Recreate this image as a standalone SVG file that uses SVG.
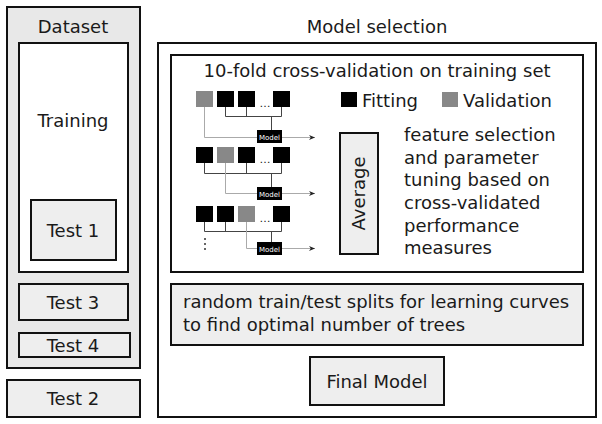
<svg xmlns="http://www.w3.org/2000/svg" width="602" height="424" viewBox="0 0 602 424">
<defs>
<style>
text{font-family:"DejaVu Sans","Liberation Sans",sans-serif;fill:#1a1a1a}
.box{stroke:#111;stroke-width:2}
.lg{fill:#e8e8e8}
.lt{fill:#eeeeee}
.wh{fill:#fff}
.t17{font-size:18px}
.mid{text-anchor:middle}
.fit{fill:#000}
.val{fill:#888}
.fl{stroke:#444;stroke-width:1;fill:none}
.vl{stroke:#aaa;stroke-width:1;fill:none}
.ar{stroke:#aaa;stroke-width:1;fill:none;marker-end:url(#ah)}
.mb{fill:#000}
.mt{font-size:7px;fill:#fff;text-anchor:middle}
</style>
<marker id="ah" viewBox="0 0 10 10" refX="10" refY="5" markerWidth="8" markerHeight="6" orient="auto" markerUnits="userSpaceOnUse">
<path d="M0,1 L10,5 L0,9 L3,5 z" fill="#222"/>
</marker>
</defs>
<rect width="602" height="424" fill="#fff"/>

<g id="dataset">
<rect class="box lg" x="7" y="7" width="133" height="361"/>
<text class="t17 mid" x="73" y="33">Dataset</text>
</g>
<g id="training">
<rect class="box wh" x="19" y="43" width="109" height="229"/>
<text class="t17 mid" x="73" y="127">Training</text>
</g>
<g id="test1">
<rect class="box lt" x="31" y="200" width="85" height="60"/>
<text class="t17 mid" x="73" y="237">Test 1</text>
</g>
<g id="test3">
<rect class="box lt" x="19" y="284" width="109" height="36"/>
<text class="t17 mid" x="73" y="309">Test 3</text>
</g>
<g id="test4">
<rect class="box lt" x="19" y="333" width="111" height="24"/>
<text class="t17 mid" x="73" y="352">Test 4</text>
</g>
<g id="test2">
<rect class="box lt" x="7" y="380" width="133" height="37"/>
<text class="t17 mid" x="73" y="405">Test 2</text>
</g>

<g id="model-selection">
<text class="t17 mid" x="377" y="33">Model selection</text>
<rect class="box wh" x="158" y="43" width="438" height="374"/>
</g>
<g id="cv">
<rect class="box wh" x="171" y="55" width="412" height="217"/>
<text class="t17 mid" x="377" y="77">10-fold cross-validation on training set</text>
</g>

<g id="legend">
<rect class="fit" x="341" y="92" width="16" height="15"/>
<text class="t17" x="362" y="107">Fitting</text>
<rect class="val" x="442" y="92" width="16" height="15"/>
<text class="t17" x="463" y="107">Validation</text>
</g>

<g id="folds">
<rect class="val" x="196" y="91" width="17" height="16"/>
<rect class="fit" x="217" y="91" width="17" height="16"/>
<rect class="fit" x="238" y="91" width="17" height="16"/>
<text x="265" y="107" style="font-size:11px" class="mid">…</text>
<rect class="fit" x="273" y="91" width="17" height="16"/>

<rect class="fit" x="196" y="147" width="17" height="16"/>
<rect class="val" x="217" y="147" width="17" height="16"/>
<rect class="fit" x="238" y="147" width="17" height="16"/>
<text x="265" y="163" style="font-size:11px" class="mid">…</text>
<rect class="fit" x="273" y="147" width="17" height="16"/>

<rect class="fit" x="196" y="206" width="17" height="16"/>
<rect class="fit" x="217" y="206" width="17" height="16"/>
<rect class="val" x="238" y="206" width="17" height="16"/>
<text x="265" y="222" style="font-size:11px" class="mid">…</text>
<rect class="fit" x="273" y="206" width="17" height="16"/>

<g fill="#333">
<circle cx="205" cy="239" r="1"/>
<circle cx="205" cy="244" r="1"/>
<circle cx="205" cy="249" r="1"/>
</g>
</g>

<g id="connectors">
<path class="fl" d="M225.5,107 V116.5 H281.5 M246.5,107 V116.5 M281.5,107 V116.5 M271.5,116.5 V130"/>
<path class="vl" d="M204.5,107 V137.5 H257"/>
<path class="ar" d="M282,137.5 H315"/>

<path class="fl" d="M204.5,163 V173.5 H281.5 M246.5,163 V173.5 M281.5,163 V173.5 M271.5,173.5 V187"/>
<path class="vl" d="M225.5,163 V193.5 H257"/>
<path class="ar" d="M282,193.5 H315"/>

<path class="fl" d="M204.5,222 V231.5 H281.5 M225.5,222 V231.5 M281.5,222 V231.5 M271.5,231.5 V242"/>
<path class="vl" d="M246.5,222 V248.5 H257"/>
<path class="ar" d="M282,248.5 H315"/>
</g>

<g id="model1">
<rect class="mb" x="257" y="130" width="25" height="13"/>
<text class="mt" x="269.5" y="139.5">Model</text>
</g>
<g id="model2">
<rect class="mb" x="257" y="187" width="25" height="13"/>
<text class="mt" x="269.5" y="196.5">Model</text>
</g>
<g id="model3">
<rect class="mb" x="257" y="242" width="25" height="13"/>
<text class="mt" x="269.5" y="251.5">Model</text>
</g>

<g id="average">
<rect class="box lt" x="340" y="133" width="38" height="121"/>
<text class="t17 mid" transform="translate(365,193.5) rotate(-90)">Average</text>
</g>

<g id="tuning-text">
<text class="t17" x="404" y="141">feature selection</text>
<text class="t17" x="404" y="164">and parameter</text>
<text class="t17" x="404" y="186">tuning based on</text>
<text class="t17" x="404" y="209">cross-validated</text>
<text class="t17" x="404" y="232">performance</text>
<text class="t17" x="404" y="254">measures</text>
</g>

<g id="learning-curves">
<rect class="box lt" x="171" y="284" width="412" height="61"/>
<text class="t17" x="183" y="308">random train/test splits for learning curves</text>
<text class="t17" x="183" y="331">to find optimal number of trees</text>
</g>

<g id="final-model">
<rect class="box lt" x="310" y="357" width="134" height="48"/>
<text class="t17 mid" x="377" y="388">Final Model</text>
</g>
</svg>
